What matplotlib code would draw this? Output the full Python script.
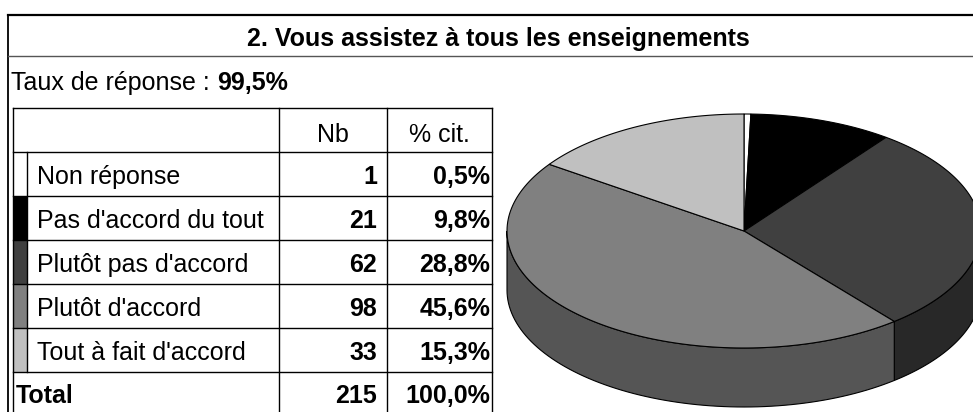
import numpy as np
import matplotlib
matplotlib.use("Agg")
import matplotlib.pyplot as plt
from matplotlib.patches import Polygon, Rectangle

plt.rcParams['font.family'] = ['Liberation Sans', 'DejaVu Sans']

title = "2. Vous assistez à tous les enseignements"
taux = "99,5%"
categories = ["Non réponse", "Pas d'accord du tout", "Plutôt pas d'accord",
              "Plutôt d'accord", "Tout à fait d'accord"]
counts = [1, 21, 62, 98, 33]
pct_labels = ["0,5%", "9,8%", "28,8%", "45,6%", "15,3%"]
total_label = ["215", "100,0%"]
top_colors = ["#ffffff", "#000000", "#404040", "#808080", "#c0c0c0"]
side_colors = ["#cccccc", "#000000", "#282828", "#555555", "#909090"]

W, H = 973, 412
fig = plt.figure(figsize=(W / 100, H / 100), dpi=100)
ax = fig.add_axes([0, 0, 1, 1])
ax.set_xlim(0, W)
ax.set_ylim(H, 0)
ax.axis('off')

fs = 18
lw = 1.0

# outer frame
ax.plot([7.5, 7.5], [15, H], color='black', lw=1.3)
ax.plot([7.5, W], [15, 15], color='black', lw=1.6)
ax.plot([7.5, W], [56, 56], color='#555555', lw=1.0)
ax.text(498, 46, title, ha='center', va='baseline', fontsize=18, fontweight='bold')

t1 = ax.text(11, 90, "Taux de réponse : ", ha='left', va='baseline', fontsize=fs)
fig.canvas.draw()
bb = t1.get_window_extent()
ax.text(11 + bb.width, 90, taux, ha='left', va='baseline', fontsize=fs, fontweight='bold')

# table grid
x0, xs, xc1, xc2, xr = 13, 27, 279, 387, 492
rows = [108, 152, 196, 240, 284, 328, 372, 420]
for y in rows[:-1]:
    ax.plot([x0, xr], [y, y], color='black', lw=lw)
for x in [x0, xc1, xc2, xr]:
    ax.plot([x, x], [rows[0], H], color='black', lw=lw)
ax.plot([xs, xs], [rows[1], rows[6]], color='black', lw=lw)

ax.text((xc1 + xc2) / 2, 142, "Nb", ha='center', va='baseline', fontsize=fs)
ax.text((xc2 + xr) / 2, 142, "% cit.", ha='center', va='baseline', fontsize=fs)

for i, cat in enumerate(categories):
    ytop, ybot = rows[i + 1], rows[i + 2]
    yb = ybot - 12
    ax.add_patch(Rectangle((x0, ytop), xs - x0, ybot - ytop, facecolor=top_colors[i],
                           edgecolor='none', zorder=1))
    ax.text(37, yb, cat, ha='left', va='baseline', fontsize=fs)
    ax.text(xc2 - 10, yb, str(counts[i]), ha='right', va='baseline', fontsize=fs, fontweight='bold')
    ax.text(xr - 2, yb, pct_labels[i], ha='right', va='baseline', fontsize=fs, fontweight='bold')

yb = 403
ax.text(16, yb, "Total", ha='left', va='baseline', fontsize=fs, fontweight='bold')
ax.text(xc2 - 10, yb, total_label[0], ha='right', va='baseline', fontsize=fs, fontweight='bold')
ax.text(xr - 2, yb, total_label[1], ha='right', va='baseline', fontsize=fs, fontweight='bold')

# 3D pie
cx, cy, a, b, depth = 744, 231, 237, 117, 59
fr = np.array(counts) / sum(counts)
ends = 90 - np.cumsum(fr) * 360
starts = np.concatenate([[90], ends[:-1]])


def ell(t):
    t = np.radians(t)
    return cx + a * np.cos(t), cy - b * np.sin(t)


# sides (front half only, t in [-180, 0])
for i in range(len(counts)):
    lo, hi = ends[i], starts[i]
    for shift in [0, -360, 360]:
        l2, h2 = max(lo + shift, -180), min(hi + shift, 0)
        if h2 > l2:
            t = np.linspace(h2, l2, 80)
            x, y = ell(t)
            pts = np.column_stack([np.concatenate([x, x[::-1]]),
                                   np.concatenate([y, y[::-1] + depth])])
            ax.add_patch(Polygon(pts, closed=True, facecolor=side_colors[i],
                                 edgecolor='black', lw=0.8, zorder=2))

# top faces
for i in range(len(counts)):
    t = np.linspace(starts[i], ends[i], 120)
    x, y = ell(t)
    pts = np.column_stack([np.concatenate([[cx], x]), np.concatenate([[cy], y])])
    ax.add_patch(Polygon(pts, closed=True, facecolor=top_colors[i],
                         edgecolor='black', lw=0.8, zorder=3))

fig.savefig("out.png", dpi=100)
